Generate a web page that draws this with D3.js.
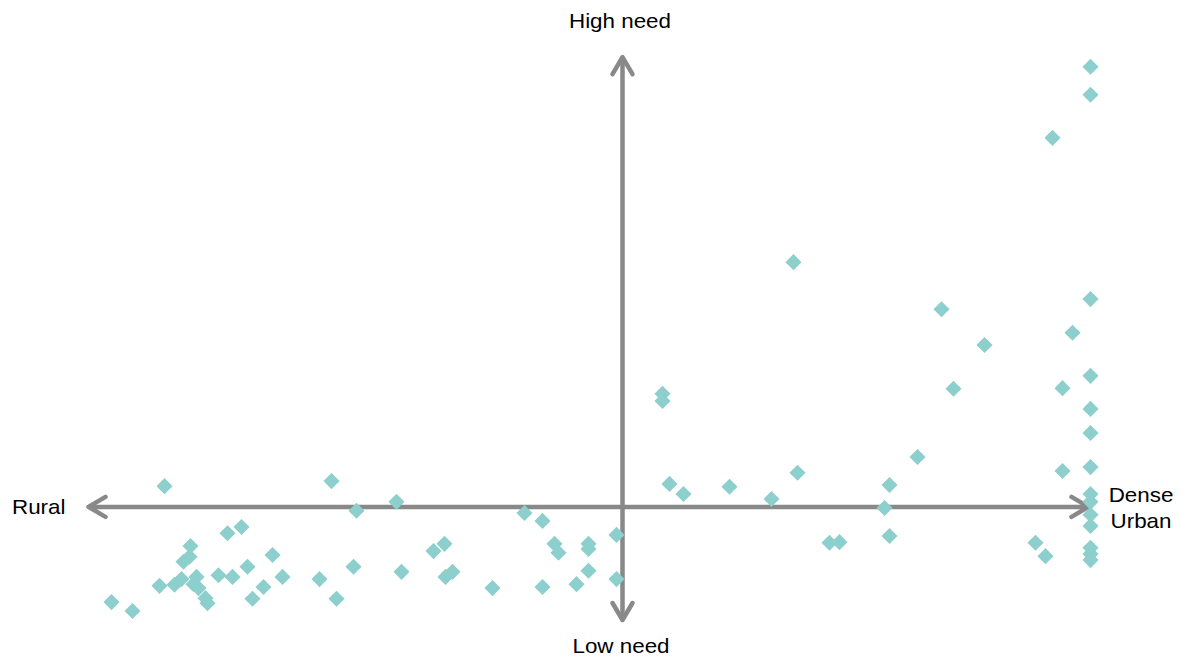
<!DOCTYPE html>
<html>
<head>
<meta charset="utf-8">
<script src="https://cdn.jsdelivr.net/npm/d3@7"></script>
<style>
  html, body { margin: 0; padding: 0; background: #fff; }
  svg { display: block; }
  text { font-family: "Liberation Sans", Arial, sans-serif; fill: #000; }
</style>
</head>
<body>
<svg id="chart" width="1195" height="663"></svg>
<script>
// Urban density score (0 = most rural, 100 = dense urban)
const density = [
  100, 100, 96.2, 70.3, 100, 85.1, 98.2, 89.4, 57.2, 57.2,
  86.3, 97.2, 100, 100, 100, 82.7, 100, 97.2, 70.7, 57.9,
  79.9, 63.9, 59.3, 68.1, 79.4, 100, 100, 100, 100, 79.9,
  73.9, 74.9, 94.5, 95.5, 100, 100, 100, 52.6, 52.6, 49.8,
  49.8, 49.8, 48.6, 45.2, 46.8, 46.4, 45.2, 43.4, 40.2, 36.2,
  35.5, 35.4, 34.3, 31.1, 30.6, 26.6, 24.1, 26.3, 24.6, 22.9,
  19.2, 18.2, 17.3, 16.2, 15.7, 15.1, 13.7, 14.2, 12.8, 11.7,
  11.5, 10.8, 10.3, 10.6, 10.0, 9.9, 9.3, 9.1, 8.4, 6.9,
  7.4, 2.1, 4.2
];
// Need score (0 = low need, 100 = high need)
const need = [
  98.8, 93.8, 86.1, 63.9, 57.3, 55.5, 51.3, 49.1, 40.4, 39.1,
  41.3, 41.4, 43.6, 37.7, 33.4, 29.1, 27.3, 26.6, 26.3, 24.3,
  24.1, 23.8, 22.5, 21.6, 20.0, 22.5, 21.1, 18.8, 16.8, 15.0,
  13.8, 13.9, 13.8, 11.4, 12.9, 11.8, 10.7, 15.2, 7.3, 8.8,
  13.6, 12.7, 6.4, 5.9, 12.0, 13.6, 17.7, 19.1, 5.7, 8.6,
  7.7, 13.6, 12.3, 8.6, 21.1, 19.5, 24.8, 9.5, 3.8, 7.3,
  7.7, 11.6, 5.9, 3.8, 9.5, 16.6, 15.5, 7.7, 8.0, 3.0,
  3.9, 5.7, 6.4, 7.7, 13.2, 11.3, 10.4, 7.3, 6.3, 6.1,
  23.9, 3.2, 1.6
];
// Axis crossing point and extents (data units)
const axisCross = { density: 53.2, need: 20.2 };
const axisExtent = { densityMin: -0.2, densityMax: 99.8, needMin: 0, needMax: 100.5 };
const axisLabels = { top: "High need", bottom: "Low need", left: "Rural", right: ["Dense", "Urban"] };

const svg = d3.select("#chart");
const x = d3.scaleLinear().domain([0, 100]).range([90.5, 1090.5]);
const y = d3.scaleLinear().domain([0, 100]).range([620, 60]);

const axisColor = "#898989";
const g = svg.append("g");

// Axis lines
g.append("line")
  .attr("x1", x(axisExtent.densityMin)).attr("x2", x(axisExtent.densityMax))
  .attr("y1", y(axisCross.need)).attr("y2", y(axisCross.need))
  .attr("stroke", axisColor).attr("stroke-width", 4.5);
g.append("line")
  .attr("x1", x(axisCross.density)).attr("x2", x(axisCross.density))
  .attr("y1", y(axisExtent.needMin)).attr("y2", y(axisExtent.needMax))
  .attr("stroke", axisColor).attr("stroke-width", 4.5);

// Arrowheads (open chevrons)
function chevron(tx, ty, dx, dy) {
  const len = 17, half = 10;
  const px = -dy, py = dx;
  const bx = tx - dx * len, by = ty - dy * len;
  const pts = [[bx + px * half, by + py * half], [tx, ty], [bx - px * half, by - py * half]];
  g.append("path")
    .attr("d", d3.line()(pts))
    .attr("fill", "none").attr("stroke", axisColor)
    .attr("stroke-width", 4.5).attr("stroke-linecap", "round").attr("stroke-linejoin", "round");
}
chevron(x(axisExtent.densityMax), y(axisCross.need), 1, 0);
chevron(x(axisExtent.densityMin), y(axisCross.need), -1, 0);
chevron(x(axisCross.density), y(axisExtent.needMax), 0, -1);
chevron(x(axisCross.density), y(axisExtent.needMin), 0, 1);

// Points
const pts = density.map((d, i) => ({ x: d, y: need[i] }));
const sym = d3.symbol().type(d3.symbolSquare).size(130);
svg.append("g").selectAll("path").data(pts).join("path")
  .attr("d", sym)
  .attr("transform", d => `translate(${x(d.x)},${y(d.y)}) rotate(45)`)
  .attr("fill", "#8dcfcc");

// Labels
const fs = 20, sx = 1.12;
function label(txt, cx, by, anchor) {
  svg.append("text")
    .attr("transform", `translate(${cx},${by}) scale(${sx},1)`)
    .attr("text-anchor", anchor)
    .attr("font-size", fs)
    .text(txt);
}
label(axisLabels.top, 620, 28, "middle");
label(axisLabels.bottom, 621, 653, "middle");
label(axisLabels.left, 12, 514, "start");
label(axisLabels.right[0], 1141, 502, "middle");
label(axisLabels.right[1], 1141, 528, "middle");
</script>
</body>
</html>
